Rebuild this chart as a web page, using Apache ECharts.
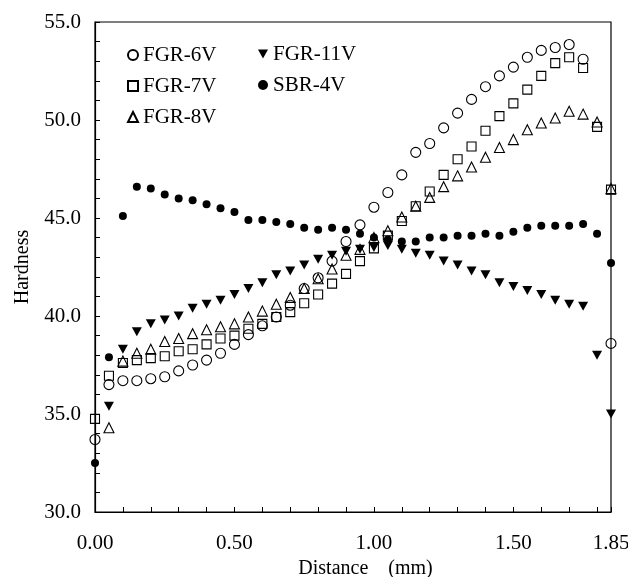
<!DOCTYPE html>
<html>
<head>
<meta charset="utf-8">
<script src="https://cdn.jsdelivr.net/npm/echarts@6/dist/echarts.min.js"></script>
<style>
  html, body { margin: 0; padding: 0; background: #fff; }
  #main { width: 628px; height: 577px; }
</style>
</head>
<body>
<div id="main"></div>
<script>
// distance (mm)
var dist = [0.00,0.05,0.10,0.15,0.20,0.25,0.30,0.35,0.40,0.45,0.50,0.55,0.60,0.65,0.70,0.75,0.80,0.85,0.90,0.95,
            1.00,1.05,1.10,1.15,1.20,1.25,1.30,1.35,1.40,1.45,1.50,1.55,1.60,1.65,1.70,1.75,1.80,1.85];

// hardness per sample
var fgr6v  = [33.7,36.5,36.7,36.7,36.8,36.9,37.2,37.5,37.75,38.1,38.55,39.05,39.5,39.95,40.55,41.4,41.95,42.8,43.8,44.65,
              45.55,46.3,47.2,48.35,48.8,49.6,50.35,51.05,51.7,52.25,52.7,53.2,53.55,53.7,53.85,53.1,null,38.6];
var fgr7v  = [34.75,36.95,37.6,37.75,37.85,37.95,38.2,38.3,38.55,38.85,39.0,39.35,39.6,39.95,40.2,40.65,41.1,41.65,42.15,42.8,
              43.45,44.1,44.85,45.6,46.35,47.2,48.0,48.65,49.45,50.2,50.85,51.55,52.25,52.9,53.2,52.65,49.65,46.45];
var fgr8v  = [null,34.3,37.7,38.1,38.3,38.7,38.85,39.1,39.3,39.45,39.6,39.95,40.25,40.6,40.95,41.4,41.9,42.4,43.1,43.4,
              44.0,44.35,45.05,45.6,46.05,46.6,47.15,47.6,48.1,48.6,49.0,49.5,49.85,50.1,50.45,50.3,49.9,46.5];
var fgr11v = [null,35.4,38.3,39.2,39.6,39.8,40.0,40.4,40.6,40.8,41.1,41.4,41.7,42.1,42.3,42.6,42.9,43.1,43.3,43.4,
              43.5,43.6,43.4,43.2,43.1,42.8,42.6,42.3,42.1,41.7,41.5,41.3,41.1,40.8,40.6,40.5,38.0,35.0];
var sbr4v  = [32.5,37.9,45.1,46.6,46.5,46.2,46.0,45.9,45.7,45.5,45.3,44.9,44.9,44.8,44.7,44.5,44.4,44.5,44.4,44.2,
              44.0,43.9,43.8,43.8,44.0,44.0,44.1,44.1,44.2,44.1,44.3,44.5,44.6,44.6,44.6,44.7,44.2,42.7];

var xLabels = [0, 0.5, 1.0, 1.5, 1.85];

var FONT = "'Liberation Serif', 'DejaVu Serif', serif";

function pairs(vals) {
    var out = [];
    for (var i = 0; i < dist.length; i++) {
        if (vals[i] != null) out.push([dist[i], vals[i]]);
    }
    return out;
}

var hollow = { color: 'rgba(0,0,0,0)', borderColor: '#000', borderWidth: 1.1, opacity: 1 };
var solid = { color: '#000', opacity: 1 };
var downTri = 'path://M0,0 L10,0 L5,9 Z';

var chart = echarts.init(document.getElementById('main'));

var option = {
    animation: false,
    backgroundColor: '#fff',
    textStyle: { fontFamily: FONT, color: '#000' },
    grid: {
        left: 95, right: 17, top: 22, bottom: 65,
        outerBoundsMode: 'none',
        show: true, borderColor: '#000', borderWidth: 1.2
    },
    legend: [
        {
            orient: 'vertical', left: 122, top: 39,
            itemWidth: 10, itemHeight: 10, itemGap: 9,
            textStyle: { fontFamily: FONT, fontSize: 21, color: '#000', lineHeight: 22 },
            data: ['FGR-6V', 'FGR-7V', 'FGR-8V']
        },
        {
            orient: 'vertical', left: 253, top: 38,
            itemWidth: 10, itemHeight: 10, itemGap: 9,
            textStyle: { fontFamily: FONT, fontSize: 21, color: '#000', lineHeight: 22 },
            data: ['FGR-11V', 'SBR-4V']
        }
    ],
    xAxis: {
        type: 'value', min: 0, max: 1.85, interval: 0.1,
        name: 'Distance    (mm)', nameLocation: 'middle', nameGap: 45,
        nameTextStyle: { fontFamily: FONT, fontSize: 20, color: '#000', padding: [0, 0, 0, 25] },
        axisLine: { lineStyle: { color: '#000', width: 1.2 } },
        axisTick: { inside: true, length: 5, lineStyle: { color: '#000' } },
        splitLine: { show: false },
        axisLabel: {
            fontFamily: FONT, fontSize: 21, color: '#000', margin: 21,
            showMaxLabel: true,
            formatter: function (v) {
                for (var i = 0; i < xLabels.length; i++) {
                    if (Math.abs(v - xLabels[i]) < 1e-6) return v.toFixed(2);
                }
                return '';
            }
        }
    },
    yAxis: {
        type: 'value', min: 30, max: 55, interval: 1,
        name: 'Hardness', nameLocation: 'middle', nameGap: 62,
        nameTextStyle: { fontFamily: FONT, fontSize: 20, color: '#000' },
        axisLine: { lineStyle: { color: '#000', width: 1.2 } },
        axisTick: { inside: true, length: 5, lineStyle: { color: '#000' } },
        splitLine: { show: false },
        axisLabel: {
            fontFamily: FONT, fontSize: 21, color: '#000', margin: 14,
            formatter: function (v) { return v % 5 === 0 ? v.toFixed(1) : ''; }
        }
    },
    series: [
        { name: 'FGR-6V', type: 'scatter', symbol: 'circle', symbolSize: 10,
          itemStyle: hollow, data: pairs(fgr6v) },
        { name: 'FGR-7V', type: 'scatter', symbol: 'rect', symbolSize: 9,
          itemStyle: hollow, data: pairs(fgr7v) },
        { name: 'FGR-8V', type: 'scatter', symbol: 'triangle', symbolSize: 10,
          itemStyle: hollow, data: pairs(fgr8v) },
        { name: 'FGR-11V', type: 'scatter', symbol: downTri, symbolSize: [10, 9],
          itemStyle: solid, data: pairs(fgr11v) },
        { name: 'SBR-4V', type: 'scatter', symbol: 'circle', symbolSize: 8,
          itemStyle: solid, data: pairs(sbr4v) }
    ]
};

chart.setOption(option);
</script>
</body>
</html>
